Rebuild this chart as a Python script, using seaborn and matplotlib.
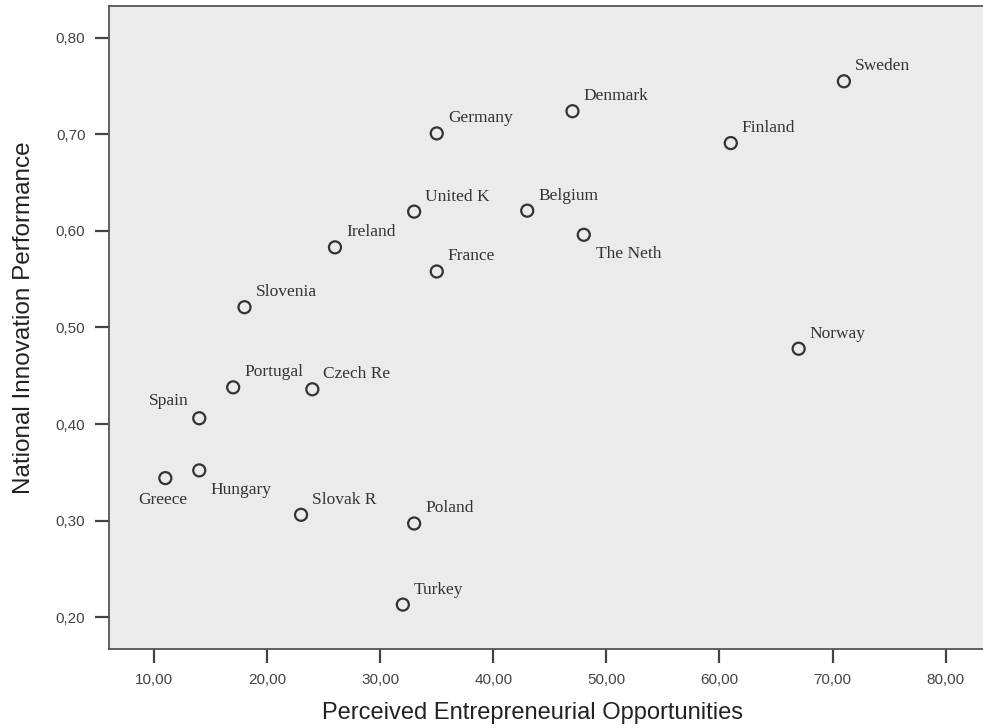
import numpy as np
import pandas as pd
import seaborn as sns
import matplotlib
matplotlib.use("Agg")
import matplotlib.pyplot as plt
from matplotlib.ticker import FuncFormatter, MultipleLocator

# Data
countries = ["Sweden", "Finland", "Norway", "Denmark", "Germany", "United K",
             "Belgium", "Ireland", "The Neth", "France", "Slovenia", "Portugal",
             "Czech Re", "Spain", "Hungary", "Greece", "Slovak R", "Poland", "Turkey"]
opportunities = [71, 61, 67, 47, 35, 33, 43, 26, 48, 35, 18, 17, 24, 14, 14, 11, 23, 33, 32]
innovation = [0.755, 0.691, 0.478, 0.724, 0.701, 0.620, 0.621, 0.583, 0.596, 0.558,
              0.521, 0.438, 0.436, 0.406, 0.352, 0.344, 0.306, 0.297, 0.213]

df = pd.DataFrame({"Country": countries,
                   "Perceived Entrepreneurial Opportunities": opportunities,
                   "National Innovation Performance": innovation})

# label placement (pixels from the marker) and horizontal alignment
label_pos = {"Spain": (-11, 17, "right"), "Hungary": (11, -20, "left"),
             "Greece": (-3, -22, "center"), "The Neth": (12, -19, "left")}

sns.set_theme(style="white")
plt.rcParams["font.family"] = ["Liberation Sans", "DejaVu Sans"]

fig = plt.figure(figsize=(9.83, 7.28), dpi=100)
ax = fig.add_axes([0.1109, 0.1085, 0.8891, 0.8833])
ax.set_facecolor("#ebebeb")

sns.scatterplot(data=df, x="Perceived Entrepreneurial Opportunities",
                y="National Innovation Performance", ax=ax, s=75,
                facecolors="none", edgecolor="#333333", linewidth=1.6, zorder=3)

for name, xv, yv in zip(countries, opportunities, innovation):
    dx, dy, ha = label_pos.get(name, (11, 15, "left"))
    ax.annotate(name, (xv, yv), xytext=(dx, dy), textcoords="offset pixels",
                ha=ha, va="center", fontsize=12.5, color="#333333",
                family=["Liberation Serif", "DejaVu Serif"])

ax.set_xlim(6.02, 83.3)
ax.set_ylim(0.167, 0.833)
ax.xaxis.set_major_locator(MultipleLocator(10))
ax.yaxis.set_major_locator(MultipleLocator(0.1))
ax.xaxis.set_major_formatter(FuncFormatter(lambda v, p: f"{v:.2f}".replace(".", ",")))
ax.yaxis.set_major_formatter(FuncFormatter(lambda v, p: f"{v:.2f}".replace(".", ",")))

ax.tick_params(axis="both", direction="out", length=10, width=1.6, color="#444444",
               labelsize=11, labelcolor="#444444", pad=7)
ax.tick_params(axis="x", bottom=True)
ax.tick_params(axis="y", left=True)

for side in ["left", "bottom", "top"]:
    ax.spines[side].set_color("#555555")
    ax.spines[side].set_linewidth(1.3)
ax.spines["right"].set_visible(False)

ax.set_xlabel("Perceived Entrepreneurial Opportunities", fontsize=17, color="#222222", labelpad=11)
ax.set_ylabel("National Innovation Performance", fontsize=17.5, color="#222222", labelpad=15)
ax.xaxis.label.set_x(0.485)
ax.yaxis.label.set_y(0.516)

plt.savefig("out.png", dpi=100)
